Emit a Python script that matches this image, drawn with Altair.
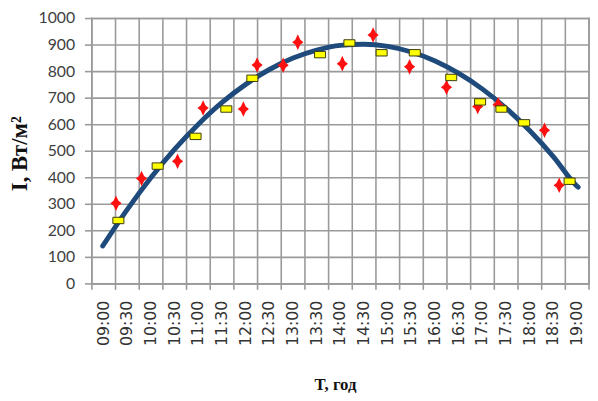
import altair as alt
import pandas as pd

# x-axis tick labels (one category per half hour)
x_labels = ["09:00", "09:30", "10:00", "10:30", "11:00", "11:30", "12:00",
            "12:30", "13:00", "13:30", "14:00", "14:30", "15:00", "15:30",
            "16:00", "16:30", "17:00", "17:30", "18:00", "18:30", "19:00"]
y_ticks = [0, 100, 200, 300, 400, 500, 600, 700, 800, 900, 1000]
x_title = "T, год"
y_title = "I, Вт/м²"

# yellow markers (time of day in hours, irradiance W/m2)
model_time = [9.31, 10.14, 10.94, 11.59, 12.14, 13.57, 14.19, 14.87, 15.57,
              16.34, 16.95, 17.40, 17.88, 18.84]
model_I = [239, 444, 556, 659, 775, 864, 908, 871, 871, 778, 686, 659, 607, 387]

# red star markers
meas_time = [9.26, 9.80, 10.56, 11.10, 11.95, 12.24, 12.79, 13.10, 14.04,
             14.69, 15.46, 16.24, 16.90, 17.33, 18.31, 18.62]
meas_I = [304, 397, 462, 663, 659, 825, 824, 911, 830, 938, 818, 741, 669,
          675, 579, 372]

# trend curve read along its path
trend_time = [8.98, 9.5, 10.0, 10.5, 11.0, 11.5, 12.0, 12.5, 13.0, 13.5, 14.0,
              14.5, 15.0, 15.5, 16.0, 16.5, 17.0, 17.5, 18.0, 18.5, 19.0, 19.02]
trend_I = [143, 281, 401, 508, 602, 684, 752, 808, 851, 881, 899, 903, 895,
           874, 840, 793, 734, 662, 577, 479, 368, 365]

W, H = 504, 269
GRID = "#9a9a9a"
GW = 1.6

label_hours = [int(s[:2]) + int(s[3:]) / 60 for s in x_labels]
step = label_hours[1] - label_hours[0]
x_domain = [label_hours[0] - step / 2, label_hours[-1] + step / 2]
y_domain = [y_ticks[0], y_ticks[-1]]
# category boundaries (vertical grid lines and tick marks)
boundaries = [h - step / 2 for h in label_hours] + [label_hours[-1] + step / 2]

model_df = pd.DataFrame({"t": model_time, "I": model_I})
meas_df = pd.DataFrame({"t": meas_time, "I": meas_I})
trend_df = pd.DataFrame({"t": trend_time, "I": trend_I})
vgrid_df = pd.DataFrame({"t": boundaries})
hgrid_df = pd.DataFrame({"I": y_ticks})
xlab_df = pd.DataFrame({"t": label_hours, "label": x_labels})
xtitle_df = pd.DataFrame({"text": [x_title]})
ytitle_df = pd.DataFrame({"text": [y_title]})

# grid drawn as two-point line segments (one per grid line)
grid_rows = []
for i, b in enumerate(boundaries):
    grid_rows.append({"id": f"v{i}", "t": b, "I": y_domain[0]})
    grid_rows.append({"id": f"v{i}", "t": b, "I": y_domain[1]})
for j, v in enumerate(y_ticks):
    grid_rows.append({"id": f"h{j}", "t": x_domain[0], "I": v})
    grid_rows.append({"id": f"h{j}", "t": x_domain[1], "I": v})
grid_df = pd.DataFrame(grid_rows)

x_scale = alt.Scale(domain=x_domain, nice=False, zero=False)
y_scale = alt.Scale(domain=y_domain, nice=False)
X = alt.X("t:Q", scale=x_scale, axis=None)
Y = alt.Y("I:Q", scale=y_scale, axis=None)

grid = alt.Chart(grid_df).mark_line(
    color=GRID, strokeWidth=GW, strokeCap="square"
).encode(x=X, y=Y, detail="id:N")

# tick marks
xticks = alt.Chart(vgrid_df).mark_rule(color=GRID, strokeWidth=GW).encode(
    x=X, y=alt.value(H), y2=alt.value(H + 6))
yticks = alt.Chart(hgrid_df).mark_rule(color=GRID, strokeWidth=GW).encode(
    y=Y, x=alt.value(-7), x2=alt.value(0))

# tick labels
ylabels = alt.Chart(hgrid_df).mark_text(
    align="right", baseline="middle", font="Lato", fontSize=16,
    color="#404040"
).encode(y=Y, x=alt.value(-17), text=alt.Text("I:Q", format="d"))

xlabels = alt.Chart(xlab_df).mark_text(
    angle=270, align="right", baseline="middle", font="DejaVu Sans",
    fontSize=16, color="#333333"
).encode(x=X, y=alt.value(H + 17), text="label:N")

# axis titles
xtitle = alt.Chart(xtitle_df).mark_text(
    align="center", baseline="middle", font="Liberation Serif", fontSize=17,
    fontWeight="bold", color="#111111"
).encode(x=alt.value(247), y=alt.value(H + 103), text="text:N")

ytitle = alt.Chart(ytitle_df).mark_text(
    angle=270, align="center", baseline="middle", font="Liberation Serif",
    fontSize=23, fontWeight="bold", color="#111111"
).encode(x=alt.value(-73), y=alt.value(137), text="text:N")

star_path = ("M0,-1 L0.32,-0.32 L0.72,0 L0.32,0.32 L0,1 L-0.32,0.32 "
             "L-0.72,0 L-0.32,-0.32 Z")
rect_path = "M-1,-0.58 L1,-0.58 L1,0.58 L-1,0.58 Z"

line = alt.Chart(trend_df).mark_line(
    color="#1F4A7C", strokeWidth=5, interpolate="monotone", strokeCap="round"
).encode(x=X, y=Y)

stars = alt.Chart(meas_df).mark_point(
    shape=star_path, filled=True, color="#FF1010", size=250, opacity=1
).encode(x=X, y=Y)

rects = alt.Chart(model_df).mark_point(
    shape=rect_path, filled=True, fill="#FFFF00", stroke="#3a3a10",
    strokeWidth=1, size=125, opacity=1
).encode(x=X, y=Y)

chart = alt.layer(
    grid, xticks, yticks, ylabels, xlabels, xtitle, ytitle,
    line, stars, rects
).properties(
    width=W, height=H,
    autosize=alt.AutoSizeParams(type="none"),
    padding={"left": 85, "top": 8, "right": 1, "bottom": 115},
).configure_view(stroke=GRID, strokeWidth=GW)

chart.save("out.html", embed_options={"renderer": "svg", "actions": False})
